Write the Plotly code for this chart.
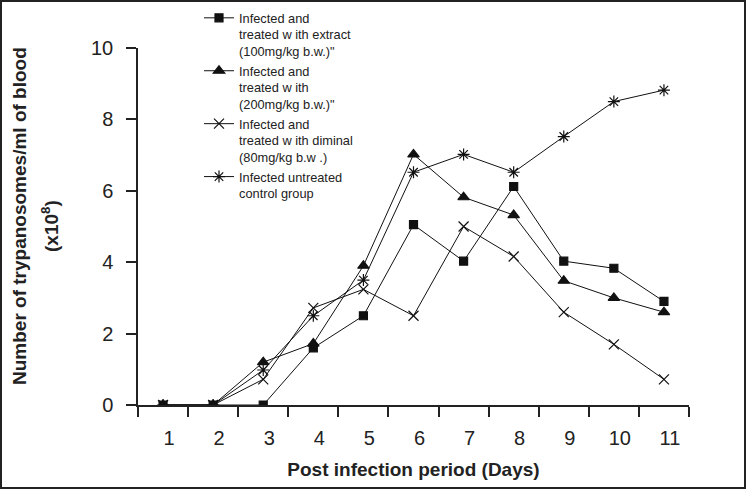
import plotly.graph_objects as go

days = ["1", "2", "3", "4", "5", "6", "7", "8", "9", "10", "11"]
extract_100 = [0, 0, 0, 1.6, 2.5, 5.05, 4.03, 6.12, 4.03, 3.83, 2.9]
extract_200 = [0, 0, 1.2, 1.72, 3.9, 7.02, 5.82, 5.32, 3.48, 3.0, 2.6]
diminal_80 = [0, 0, 0.72, 2.72, 3.24, 2.5, 5.0, 4.16, 2.6, 1.7, 0.72]
untreated = [0, 0, 0.98, 2.5, 3.5, 6.52, 7.02, 6.52, 7.52, 8.5, 8.82]

names = [
    'Infected and<br>treated w ith extract<br>(100mg/kg b.w.)"',
    'Infected and<br>treated w ith<br>(200mg/kg b.w.)"',
    'Infected and<br>treated w ith diminal<br>(80mg/kg b.w .)',
    'Infected untreated<br>control group',
]
y_title_1 = "<b>Number of trypanosomes/ml of blood</b>"
y_title_2 = "<b>(x10<sup>8</sup>)</b>"
x_title = "<b>Post infection period (Days)</b>"

series = [extract_100, extract_200, diminal_80, untreated]
symbols = ["square", "triangle-up", "x-thin-open", "asterisk-open"]
sizes = [8, 10, 10, 10]

fig = go.Figure()
for nm, ys, sym, sz in zip(names, series, symbols, sizes):
    fig.add_trace(go.Scatter(
        x=days, y=ys, name=nm, mode="lines+markers",
        line=dict(color="#111111", width=1),
        marker=dict(symbol=sym, size=sz, color="#111111",
                    line=dict(color="#111111", width=1.2)),
    ))

L, R, T, B = 138, 57, 48, 84
W, H = 746, 489
pw, ph = W - L - R, H - T - B


def px_x(p):
    return (p - L) / pw


def px_y(p):
    return (H - B - p) / ph


fig.update_layout(
    width=W, height=H,
    margin=dict(l=L, r=R, t=T, b=B, autoexpand=False),
    paper_bgcolor="white", plot_bgcolor="white",
    font=dict(family="Liberation Sans, Arial, sans-serif", color="#222222"),
    showlegend=True,
    legend=dict(
        x=px_x(199), y=px_y(3), xanchor="left", yanchor="top",
        bgcolor="rgba(0,0,0,0)", font=dict(size=12.8, color="#222222"),
        tracegroupgap=0, itemwidth=30, valign="top",
    ),
    xaxis=dict(
        type="category", range=[-0.5, 10.5], tickson="boundaries",
        showline=True, linecolor="#222222", linewidth=1.5,
        ticks="outside", ticklen=10, tickcolor="#222222", tickwidth=1.5,
        tickfont=dict(size=20, color="#222222"), ticklabelshift=6,
        ticklabelstandoff=14,
        showgrid=False, zeroline=False,
        title=dict(text=x_title, font=dict(size=19, color="#222222"), standoff=15),
    ),
    yaxis=dict(
        range=[0, 10], tickvals=[0, 2, 4, 6, 8, 10],
        showline=True, linecolor="#222222", linewidth=1.5,
        ticks="outside", ticklen=10, tickcolor="#222222", tickwidth=1.5,
        tickfont=dict(size=20, color="#222222"), ticklabelstandoff=9,
        showgrid=False, zeroline=False,
    ),
    annotations=[
        dict(text=y_title_1, xref="paper", yref="paper", x=px_x(19), y=px_y(216),
             xanchor="center", yanchor="middle", textangle=-90, showarrow=False,
             font=dict(size=19, color="#222222")),
        dict(text=y_title_2, xref="paper", yref="paper", x=px_x(50), y=px_y(226),
             xanchor="center", yanchor="middle", textangle=-90, showarrow=False,
             font=dict(size=19, color="#222222")),
    ],
    shapes=[dict(
        type="rect", xref="paper", yref="paper",
        x0=px_x(1), x1=px_x(W - 1), y0=px_y(H - 1), y1=px_y(1),
        line=dict(color="#222222", width=2), layer="above",
    )],
)

fig.write_html(
    "out.html",
    config={"displayModeBar": False},
    post_script="document.body.style.margin='0';document.body.style.padding='0';",
)
